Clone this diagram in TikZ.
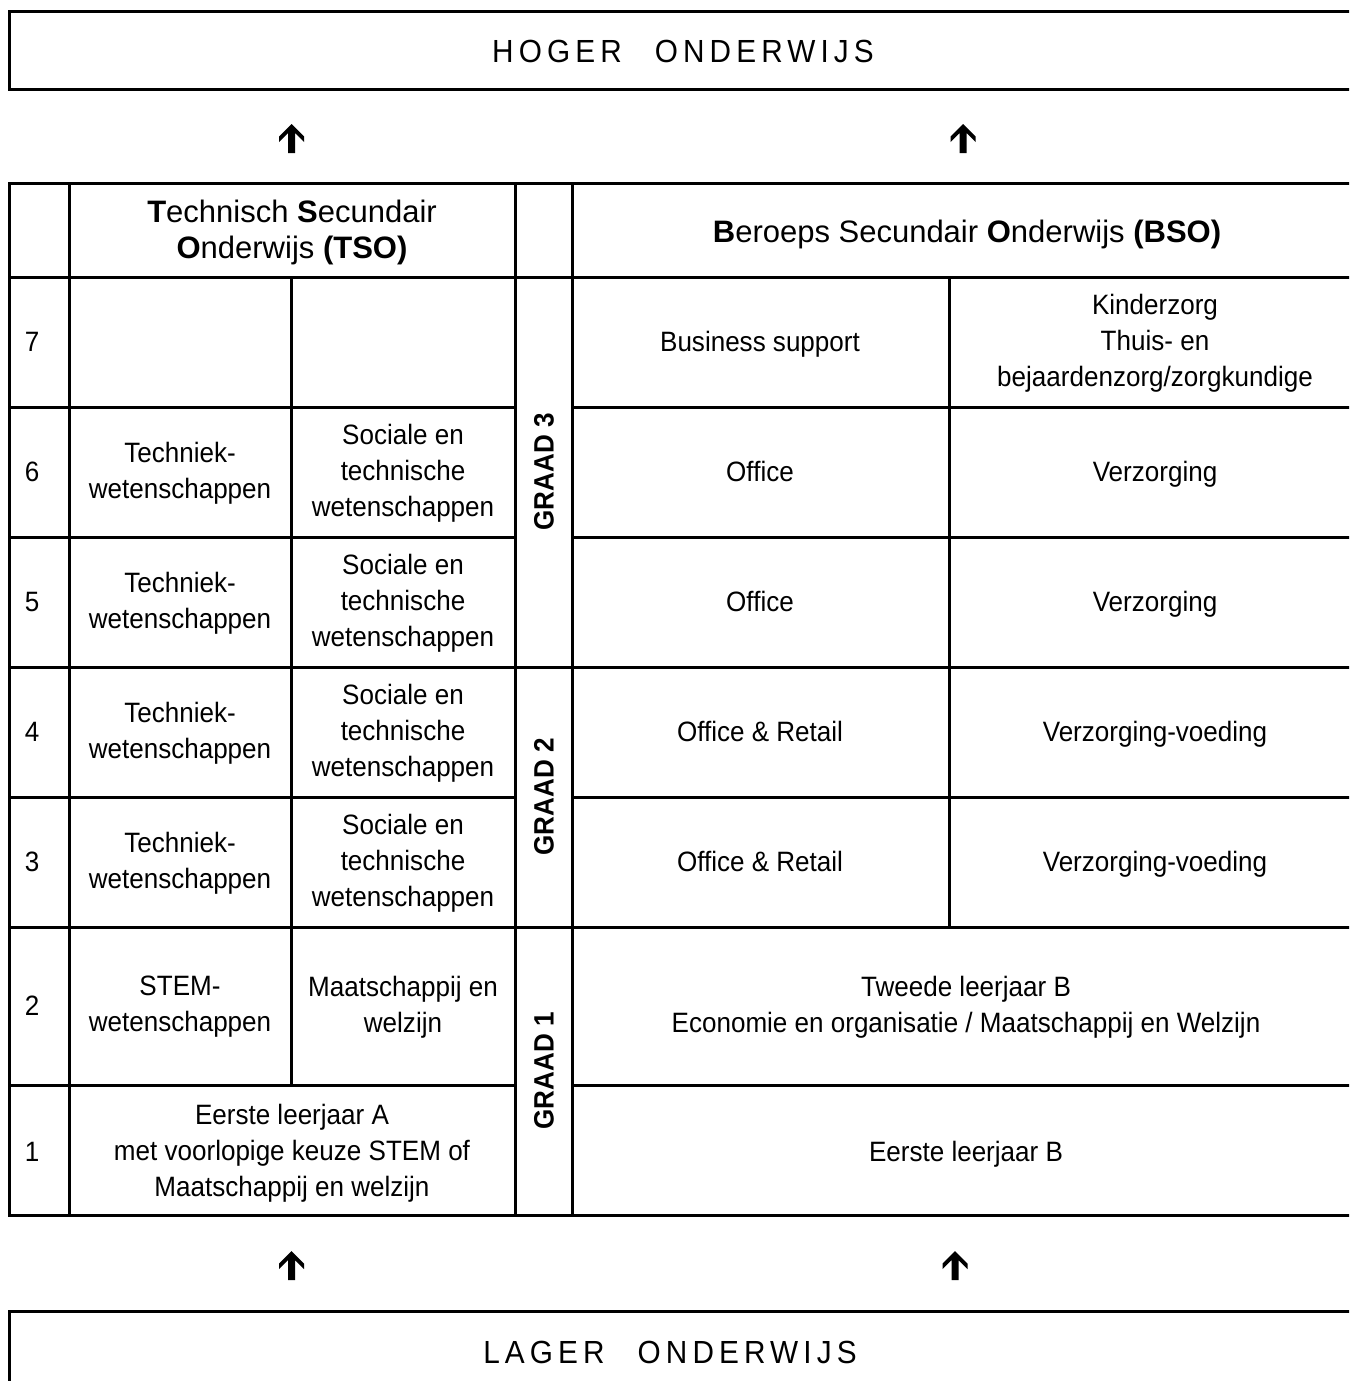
\documentclass[tikz,border=0pt]{standalone}
\usepackage{fontspec}
\setmainfont{Liberation Sans}[FakeStretch=0.93]
\newfontfamily\headfont{Liberation Sans}
\newfontfamily\trackfont{Liberation Sans}[FakeStretch=0.93,LetterSpace=16]
\begin{document}
\begin{tikzpicture}[x=1pt,y=-1pt,
  grid/.style={line width=3pt,line cap=rect},
  cell/.style={align=center,inner sep=0pt,font=\fontsize{28}{36}\selectfont},
  hcell/.style={align=center,inner sep=0pt,font=\headfont\fontsize{31}{36}\selectfont},
  num/.style={inner sep=0pt,font=\fontsize{28}{36}\selectfont},
  graad/.style={rotate=90,inner sep=0pt,font=\bfseries\fontsize{28}{36}\selectfont},
  band/.style={inner sep=0pt,font=\trackfont\fontsize{32}{36}\selectfont},
  uparrow/.style={fill=black}]
\clip (0,0) rectangle (1349,1381);
\useasboundingbox (0,0) rectangle (1349,1381);
% outer boxes
\draw[grid] (9,12) rectangle (1362,89);
\draw[grid] (9,1311) rectangle (1362,1430);
\node[band] (hoger) at (683,51) {HOGER\hspace{33pt}ONDERWIJS};
\node[band] (lager) at (670,1352) {LAGER\hspace{33pt}ONDERWIJS};
% arrows
\coordinate (a1) at (291.5,124);
\coordinate (a2) at (963,124);
\coordinate (a3) at (291.5,1251);
\coordinate (a4) at (955,1251);
\foreach \c in {a1,a2,a3,a4}{
  \fill[uparrow] (\c) -- ++(-12.5,12.5) -- ++(0,5.5) -- ++(9,-9) -- ++(0,20) -- ++(7,0) -- ++(0,-20) -- ++(9,9) -- ++(0,-5.5) -- cycle;
}
% table lines
\draw[grid] (9,183) -- (1362,183);
\draw[grid] (9,1215) -- (1362,1215);
\draw[grid] (9,183) -- (9,1215);
\draw[grid] (69,183) -- (69,1215);
\draw[grid] (515,183) -- (515,1215);
\draw[grid] (572,183) -- (572,1215);
\draw[grid] (291,277) -- (291,1085);
\draw[grid] (949,277) -- (949,927);
\draw[grid] (9,277) -- (1362,277);
\draw[grid] (9,667) -- (1362,667);
\draw[grid] (9,927) -- (1362,927);
\foreach \yy in {407,537,797,1085}{
  \draw[grid] (9,\yy) -- (515,\yy);
  \draw[grid] (572,\yy) -- (1362,\yy);
}
% header
\node[hcell] (tso) at (292,232) {\textbf{T}echnisch \textbf{S}ecundair\\\textbf{O}nderwijs \textbf{(TSO)}};
\node[hcell] (bso) at (967,234) {\textbf{B}eroeps Secundair \textbf{O}nderwijs \textbf{(BSO)}};
% numbers
\node[num] (n7) at (32,342) {7};
\node[num] (n6) at (32,472) {6};
\node[num] (n5) at (32,602) {5};
\node[num] (n4) at (32,732) {4};
\node[num] (n3) at (32,862) {3};
\node[num] (n2) at (32,1006) {2};
\node[num] (n1) at (32,1152) {1};
% graad
\node[graad] (g3) at (544,472) {GRAAD 3};
\node[graad] (g2) at (544,797) {GRAAD 2};
\node[graad] (g1) at (544,1071) {GRAAD 1};
% row 7
\node[cell] (r7c) at (760,344) {Business support};
\node[cell] (r7d) at (1155,343) {Kinderzorg\\Thuis- en\\bejaardenzorg/zorgkundige};
% row 6
\node[cell] (r6a) at (180,473) {Techniek-\\wetenschappen};
\node[cell] (r6b) at (403,473) {Sociale en\\technische\\wetenschappen};
\node[cell] (r6c) at (760,474) {Office\vphantom{g}};
\node[cell] (r6d) at (1155,474) {Verzorging};
% row 5
\node[cell] (r5a) at (180,603) {Techniek-\\wetenschappen};
\node[cell] (r5b) at (403,603) {Sociale en\\technische\\wetenschappen};
\node[cell] (r5c) at (760,604) {Office\vphantom{g}};
\node[cell] (r5d) at (1155,604) {Verzorging};
% row 4
\node[cell] (r4a) at (180,733) {Techniek-\\wetenschappen};
\node[cell] (r4b) at (403,733) {Sociale en\\technische\\wetenschappen};
\node[cell] (r4c) at (760,734) {Office \& Retail\vphantom{g}};
\node[cell] (r4d) at (1155,734) {Verzorging-voeding};
% row 3
\node[cell] (r3a) at (180,863) {Techniek-\\wetenschappen};
\node[cell] (r3b) at (403,863) {Sociale en\\technische\\wetenschappen};
\node[cell] (r3c) at (760,864) {Office \& Retail\vphantom{g}};
\node[cell] (r3d) at (1155,864) {Verzorging-voeding};
% row 2
\node[cell] (r2a) at (180,1007) {STEM-\\wetenschappen};
\node[cell] (r2b) at (403,1007) {Maatschappij en\\welzijn};
\node[cell] (r2c) at (966,1007) {Tweede leerjaar B\\Economie en organisatie / Maatschappij en Welzijn};
% row 1
\node[cell] (r1a) at (292,1153) {Eerste leerjaar A\\met voorlopige keuze STEM of\\Maatschappij en welzijn};
\node[cell] (r1c) at (966,1154) {Eerste leerjaar B};
\end{tikzpicture}
\end{document}
